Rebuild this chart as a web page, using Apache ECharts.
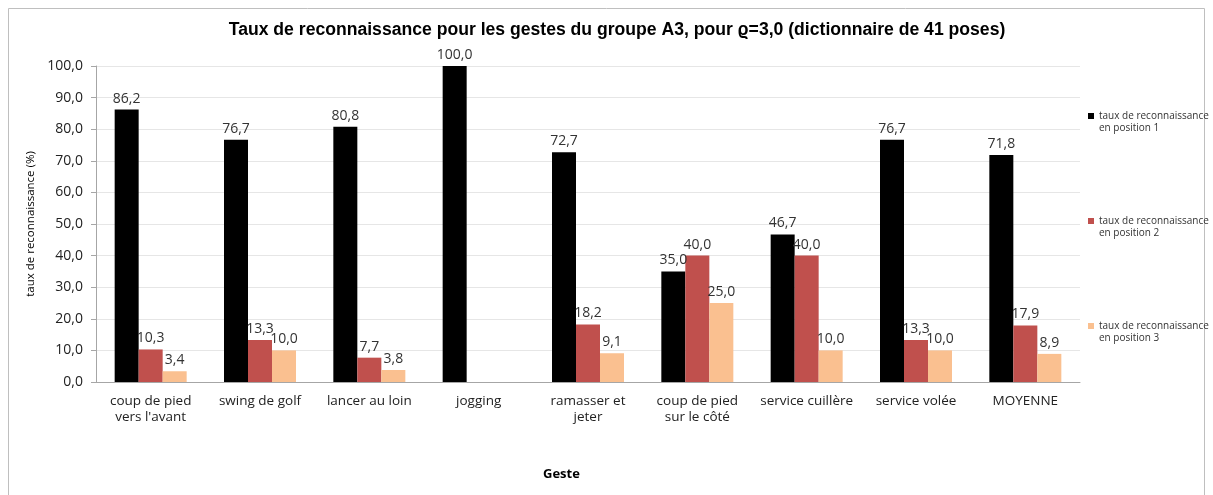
<!DOCTYPE html>
<html><head><meta charset="utf-8">
<script src="https://cdn.jsdelivr.net/npm/echarts@6/dist/echarts.min.js"></script>
<style>html,body{margin:0;padding:0;background:#fff}#c{width:1213px;height:495px}</style>
</head><body><div id="c"></div>
<script>
const categories = ["coup de pied\nvers l'avant","swing de golf","lancer au loin","jogging","ramasser et\njeter","coup de pied\nsur le côté","service cuillère","service volée","MOYENNE"];
const pos1 = [86.2, 76.7, 80.8, 100.0, 72.7, 35.0, 46.7, 76.7, 71.8];
const pos2 = [10.3, 13.3, 7.7, null, 18.2, 40.0, 40.0, 13.3, 17.9];
const pos3 = [3.4, 10.0, 3.8, null, 9.1, 25.0, 10.0, 10.0, 8.9];
const seriesNames = ["taux de reconnaissance\nen position 1","taux de reconnaissance\nen position 2","taux de reconnaissance\nen position 3"];
const yTicks = [0,10,20,30,40,50,60,70,80,90,100];

const font = "'Open Sans', 'DejaVu Sans', sans-serif";
const colors = ['#000000','#C0504D','#FAC090'];
const lbl = {show:true, position:'top', color:'#333', fontSize:14, fontFamily:font, distance:4,
  formatter: p => p.value == null ? '' : p.value.toFixed(1).replace('.', ',')};
function mk(i, data){
  return {name: seriesNames[i], type:'bar', data, barWidth:24, barGap:'0%', barCategoryGap:'34%',
    itemStyle:{color:colors[i]}, label:lbl};
}
const chart = echarts.init(document.getElementById('c'), null, {renderer:'canvas'});
chart.setOption({
  animation:false,
  backgroundColor:'#fff',
  title:{text:'Taux de reconnaissance pour les gestes du groupe A3, pour ϱ=3,0 (dictionnaire de 41 poses)',
    left:612, textAlign:'center', top:16,
    textStyle:{fontSize:17.6, fontWeight:'bold', color:'#000', fontFamily:"'Liberation Sans', Arial, sans-serif"}},
  legend:{orient:'vertical', left:1083, top:93, itemWidth:6, itemHeight:6, itemGap:69, icon:'rect',
    formatter: n => ' \n' + n,
    textStyle:{fontSize:10, color:'#333', fontFamily:font, lineHeight:12}, data:seriesNames},
  grid:{left:96, right:133, top:66, bottom:113},
  xAxis:{type:'category', data:categories,
    axisLine:{lineStyle:{color:'#A6A6A6'}}, axisTick:{show:false},
    axisLabel:{color:'#222', fontSize:13.5, fontFamily:font, margin:11, lineHeight:16, interval:0}},
  yAxis:{type:'value', min:0, max:100, interval:10,
    name:'taux de reconnaissance (%)', nameLocation:'middle', nameGap:58, nameRotate:90,
    nameTextStyle:{fontSize:11.5, color:'#000', fontFamily:font},
    axisLine:{show:true, lineStyle:{color:'#A6A6A6'}}, axisTick:{show:true, length:5, lineStyle:{color:'#A6A6A6'}},
    splitLine:{lineStyle:{color:'#E6E6E6'}},
    axisLabel:{color:'#222', fontSize:14, fontFamily:font, margin:13, formatter:v => v.toFixed(1).replace('.', ',')}},
  graphic:[
    {type:'rect', shape:{x:8.5, y:8.5, width:1196, height:490}, style:{fill:'none', stroke:'#BFBFBF', lineWidth:1}, silent:true, z:-1},
    {type:'text', left:543, top:468, style:{text:'Geste', font:"bold 13px 'Open Sans', sans-serif", fill:'#000'}}
  ],
  series:[mk(0,pos1), mk(1,pos2), mk(2,pos3)]
});
</script></body></html>
